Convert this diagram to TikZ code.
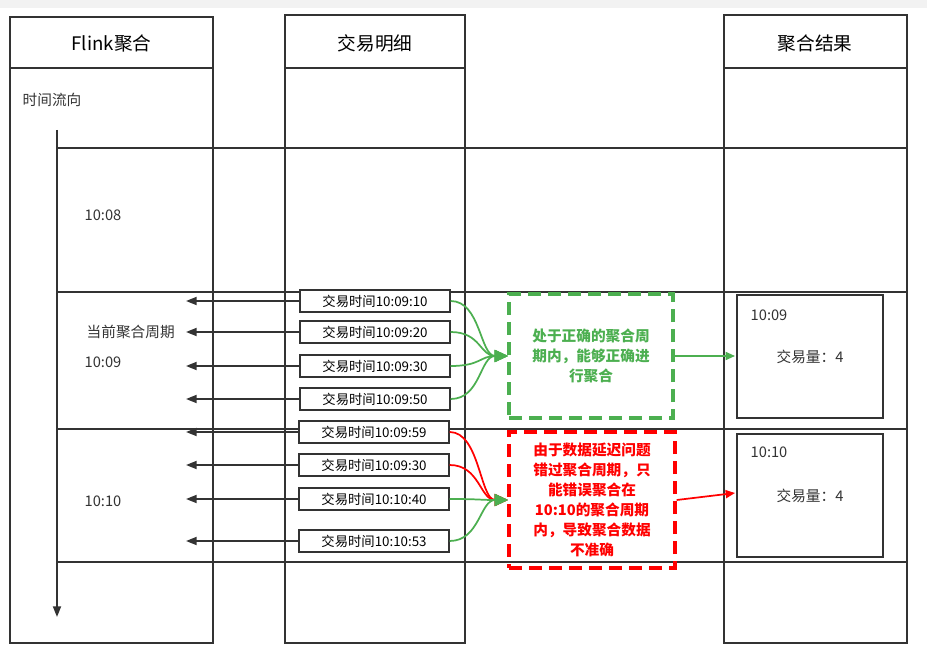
\documentclass[tikz,border=0pt]{standalone}
\usepackage{fontspec}
\setmainfont{Noto Sans CJK SC}
\usetikzlibrary{arrows.meta}
\definecolor{gr}{HTML}{4CAF50}
\definecolor{rd}{HTML}{FF0000}
\definecolor{ln}{HTML}{333333}
\begin{document}
\begin{tikzpicture}[x=0.75pt,y=-0.75pt,
  col/.style={draw=ln,line width=1.3pt},
  hl/.style={draw=ln,line width=1.3pt},
  det/.style={draw=ln,line width=1pt,fill=white,minimum width=150*0.75pt,minimum height=22*0.75pt,inner sep=0pt,font=\fontsize{10}{12}\selectfont},
  la/.style={draw=ln,line width=1.3pt,-{Triangle[length=8pt,width=6pt]}},
  txt/.style={font=\fontsize{11}{13}\selectfont,text=ln},
  gc/.style={draw=gr,line width=1.3pt},
  rc/.style={draw=rd,line width=1.3pt}]
\useasboundingbox (0,0) rectangle (927,648);
\fill[gray!10] (0,0) rectangle (927,8);
% columns
\draw[col] (10,17) rectangle (213,643); \draw[col] (10,68) -- (213,68);
\draw[col] (285,15) rectangle (465,643); \draw[col] (285,68) -- (465,68);
\draw[col] (724,15) rectangle (907,643); \draw[col] (724,68) -- (907,68);
\node[font=\fontsize{14}{16}\selectfont] (h1) at (111.5,43) {Flink聚合};
\node[font=\fontsize{14}{16}\selectfont] (h2) at (375,43) {交易明细};
\node[font=\fontsize{14}{16}\selectfont] (h3) at (815,43) {聚合结果};
% horizontal lines
\foreach \y in {148,292,429,562} \draw[hl] (57,\y) -- (907,\y);
\coordinate (ta) at (57,130); \coordinate (tb) at (57,617);
\draw[la] (ta) -- (tb);
\node[txt,anchor=west] (t0) at (18,100) {时间流向};
\node[txt,anchor=west] (t1) at (80,215) {10:08};
\node[txt,anchor=west] (t2) at (82,332) {当前聚合周期};
\node[txt,anchor=west] (t3) at (80,362) {10:09};
\node[txt,anchor=west] (t4) at (80,501) {10:10};
% detail boxes
\node[det] (d1) at (375,301) {交易时间10:09:10};
\node[det] (d2) at (375,332) {交易时间10:09:20};
\node[det] (d3) at (375,366) {交易时间10:09:30};
\node[det] (d4) at (375,399) {交易时间10:09:50};
\node[det] (d5) at (374,432) {交易时间10:09:59};
\node[det] (d6) at (374,465) {交易时间10:09:30};
\node[det] (d7) at (374,499) {交易时间10:10:40};
\node[det] (d8) at (374,541) {交易时间10:10:53};
\foreach \n/\y in {d1/301,d2/332,d3/366,d4/399,d5/432,d6/465,d7/499,d8/541}{
  \coordinate (e\n) at (186,\y);
  \draw[la] (\n.west) -- (e\n);}
% dashed boxes
\node[draw=gr,dashed,line width=2.5pt,dash pattern=on 10pt off 5pt,minimum width=164*0.75pt,minimum height=124*0.75pt,align=center,text=gr,font=\bfseries\fontsize{11}{15}\selectfont] (g) at (591,356) {处于正确的聚合周\\期内，能够正确进\\行聚合};
\node[draw=rd,dashed,line width=2.5pt,dash pattern=on 10pt off 5pt,minimum width=166*0.75pt,minimum height=136*0.75pt,align=center,text=rd,font=\bfseries\fontsize{11}{15}\selectfont] (r) at (592,500) {由于数据延迟问题\\错过聚合周期，只\\能错误聚合在\\10:10的聚合周期\\内，导致聚合数据\\不准确};
% result boxes
\draw[col] (737,295) rectangle (883,418);
\draw[col] (737,434) rectangle (883,557);
\node[txt,anchor=west] (r1) at (746,315) {10:09};
\node[txt] (r2) at (810,357) {交易量：4};
\node[txt,anchor=west] (r3) at (746,452) {10:10};
\node[txt] (r4) at (810,496) {交易量：4};
% curves
\coordinate (gm) at (508,356); \coordinate (rm) at (508,500);
\foreach \n in {d1,d2,d3,d4}
  \draw[gc,-{Triangle[length=10pt,width=9pt]}] (\n.east) .. controls +(30,0) and (480,356) .. (gm);
\foreach \n in {d5,d6}
  \draw[rc,-{Triangle[length=10pt,width=9pt]}] (\n.east) .. controls +(30,0) and (480,500) .. (rm);
\foreach \n in {d7,d8}
  \draw[gc,-{Triangle[length=10pt,width=9pt]}] (\n.east) .. controls +(30,0) and (480,500) .. (rm);
\coordinate (ga) at (735,356); \coordinate (ra) at (735,493);
\draw[gc,-{Triangle[length=7pt,width=6pt]}] (g.east) -- (ga);
\draw[rc,-{Triangle[length=7pt,width=6pt]}] (r.east) -- (ra);
\end{tikzpicture}
\end{document}
